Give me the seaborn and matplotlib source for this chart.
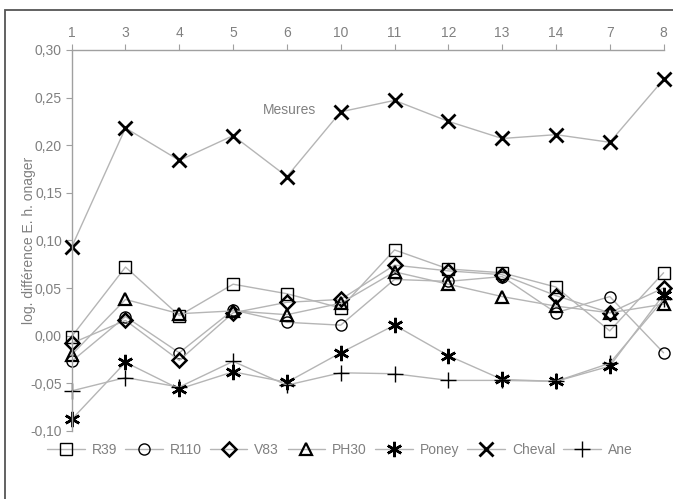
import pandas as pd
import seaborn as sns
import matplotlib.pyplot as plt
from matplotlib.patches import Rectangle
from matplotlib.ticker import FuncFormatter

# --- data ---
categories = ['1', '3', '4', '5', '6', '10', '11', '12', '13', '14', '7', '8']

r39 = [-0.001, 0.072, 0.021, 0.054, 0.044, 0.029, 0.090, 0.070, 0.066, 0.051, 0.005, 0.066]
r110 = [-0.027, 0.020, -0.018, 0.027, 0.014, 0.011, 0.059, 0.057, 0.062, 0.024, 0.041, -0.018]
v83 = [-0.008, 0.016, -0.026, 0.024, 0.035, 0.038, 0.074, 0.068, 0.064, 0.042, 0.024, 0.050]
ph30 = [-0.020, 0.038, 0.023, 0.026, 0.022, 0.034, 0.067, 0.054, 0.041, 0.031, 0.024, 0.033]
poney = [-0.088, -0.028, -0.056, -0.038, -0.049, -0.018, 0.011, -0.021, -0.046, -0.048, -0.032, 0.043]
cheval = [0.093, 0.218, 0.184, 0.210, 0.167, 0.235, 0.247, 0.225, 0.207, 0.211, 0.203, 0.269]
ane = [-0.058, -0.044, -0.054, -0.027, -0.052, -0.039, -0.040, -0.047, -0.047, -0.048, -0.029, 0.038]

series_names = ['R39', 'R110', 'V83', 'PH30', 'Poney', 'Cheval', 'Ane']
series_values = [r39, r110, v83, ph30, poney, cheval, ane]

yticks = [-0.10, -0.05, 0.00, 0.05, 0.10, 0.15, 0.20, 0.25, 0.30]

# marker styles per series
MARKERS = {
    'R39': dict(marker='s', markersize=8, markeredgewidth=1.0),
    'R110': dict(marker='o', markersize=8, markeredgewidth=1.0),
    'V83': dict(marker='D', markersize=7, markeredgewidth=1.8),
    'PH30': dict(marker='^', markersize=9, markeredgewidth=1.6),
    'Poney': dict(marker=(6, 2, 0), markersize=11, markeredgewidth=1.8),
    'Cheval': dict(marker='x', markersize=10, markeredgewidth=2.0),
    'Ane': dict(marker='+', markersize=11, markeredgewidth=1.0),
}

TEXT_GREY = '#808080'
LINE_GREY = '#b5b5b5'

sns.set_theme(style='white')
plt.rcParams['font.family'] = ['Liberation Sans', 'DejaVu Sans']

fig = plt.figure(figsize=(6.73, 4.99), dpi=100)
ax = fig.add_axes([0.1065, 0.1365, 0.8795, 0.7635])

df = pd.DataFrame({'cat': categories})
for name, vals in zip(series_names, series_values):
    df[name] = vals

for name in series_names:
    sns.lineplot(data=df, x='cat', y=name, sort=False, ax=ax, label=name,
                 color=LINE_GREY, linewidth=1.0, markeredgecolor='black',
                 markerfacecolor='none', clip_on=False, **MARKERS[name])

ax.set_xlim(0, len(categories) - 1)
ax.set_ylim(-0.10, 0.30)
ax.set_yticks(yticks)
ax.yaxis.set_major_formatter(FuncFormatter(lambda v, p: f'{v:.2f}'.replace('.', ',')))

ax.xaxis.tick_top()
ax.xaxis.set_label_position('top')
ax.set_xlabel('')
ax.set_ylabel('log. différence E. h. onager', color=TEXT_GREY, fontsize=10, labelpad=-4)

for side in ['bottom', 'right']:
    ax.spines[side].set_visible(False)
for side in ['top', 'left']:
    ax.spines[side].set_color('#a0a0a0')
    ax.spines[side].set_linewidth(1.0)

ax.tick_params(axis='both', colors='#a0a0a0', labelcolor=TEXT_GREY, labelsize=10,
               length=4, width=0.8, direction='out')
ax.tick_params(axis='x', top=True, bottom=False, pad=3)
ax.tick_params(axis='y', left=True, pad=3)

ax.text(4.05, 0.237, 'Mesures', ha='center', va='center', color=TEXT_GREY, fontsize=10)

leg = ax.legend(loc='center', bbox_to_anchor=(0.505, 0.098), bbox_transform=fig.transFigure,
                ncol=7, frameon=False, fontsize=10, handlelength=2.7,
                handletextpad=0.5, columnspacing=0.6, borderaxespad=0)
for t in leg.get_texts():
    t.set_color(TEXT_GREY)

# frame around the figure (scanned page border)
fig.patches.append(Rectangle((5 / 673, -0.1), 1.2, 1.1 - 10 / 499,
                             transform=fig.transFigure, fill=False,
                             edgecolor='#555555', linewidth=1.3))

fig.savefig('out.png', dpi=100)
